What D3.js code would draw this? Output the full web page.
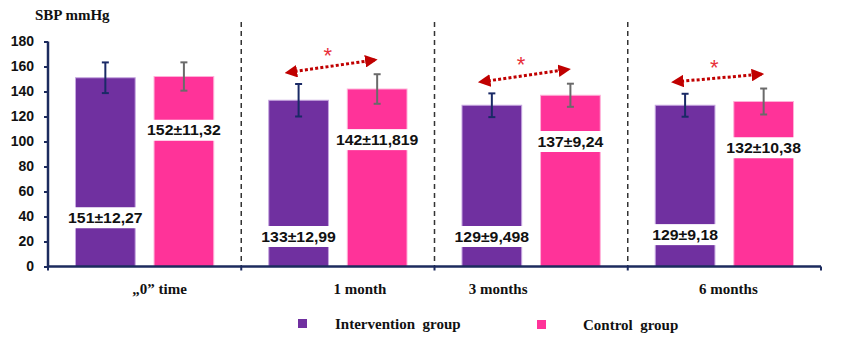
<!DOCTYPE html>
<html>
<head>
<meta charset="utf-8">
<script src="https://cdn.jsdelivr.net/npm/d3@7/dist/d3.min.js"></script>
<style>
  html, body { margin: 0; padding: 0; background: #fff; }
  svg { display: block; }
</style>
</head>
<body>
<svg id="chart" width="853" height="344"></svg>
<script>
// Systolic blood pressure (mmHg), mean ± SD per visit
const categories = ["\u201E0\u201D time", "1 month", "3 months", "6 months"];
const seriesNames = ["Intervention group", "Control group"];
const interventionMean = [151, 133, 129, 129];
const interventionSD   = [12.27, 12.99, 9.498, 9.18];
const controlMean      = [152, 142, 137, 132];
const controlSD        = [11.32, 11.819, 9.24, 10.38];
const interventionText = ["151\u00B112,27", "133\u00B112,99", "129\u00B19,498", "129\u00B19,18"];
const controlText      = ["152\u00B111,32", "142\u00B111,819", "137\u00B19,24", "132\u00B110,38"];
const significant      = [false, true, true, true];
const yTicks           = [0, 20, 40, 60, 80, 100, 120, 140, 160, 180];

// where the value labels sit on each bar (in mmHg)
const interventionLabelAt = [39, 24, 24, 25.5];
const controlLabelAt      = [109, 101.5, 100, 95];
// small horizontal nudges of the category names
const categoryShift = [15, 22, -33, 4];

const colors = { "Intervention group": "#7030A0", "Control group": "#FF3399" };
const outline = { "Intervention group": "#C6A6E0", "Control group": "#FFB0D8" };
const errColor = { "Intervention group": "#1A2A66", "Control group": "#6A6A6A" };

const svg = d3.select("#chart");
const axisColor = "#1C2B5E";

const y = d3.scaleLinear().domain([0, 180]).range([266.5, 41.5]);
const x = d3.scaleBand().domain(categories).range([48, 821]);
const xs = d3.scaleBand().domain(seriesNames).range([0, x.bandwidth()])
  .paddingInner(0.24).paddingOuter(0.35);

const rows = categories.map((c, i) => ({
  cat: c, i,
  items: [
    { s: seriesNames[0], mean: interventionMean[i], sd: interventionSD[i], text: interventionText[i], at: interventionLabelAt[i] },
    { s: seriesNames[1], mean: controlMean[i], sd: controlSD[i], text: controlText[i], at: controlLabelAt[i] }
  ]
}));

// Title
svg.append("text")
  .attr("x", 35).attr("y", 20)
  .attr("font-family", "Liberation Serif, Times New Roman, serif")
  .attr("font-weight", "bold").attr("font-size", 15)
  .attr("fill", "#111")
  .text("SBP mmHg");

// Dashed separators between visits
svg.append("g").selectAll("line")
  .data(categories.slice(1))
  .join("line")
  .attr("x1", d => x(d)).attr("x2", d => x(d))
  .attr("y1", 22).attr("y2", y(0))
  .attr("stroke", "#333").attr("stroke-width", 1.5)
  .attr("stroke-dasharray", "5,4");

// Bars
const groups = svg.append("g").selectAll("g")
  .data(rows).join("g")
  .attr("transform", d => `translate(${x(d.cat)},0)`);

groups.selectAll("rect.bar")
  .data(d => d.items)
  .join("rect")
  .attr("class", "bar")
  .attr("x", d => xs(d.s))
  .attr("width", xs.bandwidth())
  .attr("y", d => y(d.mean))
  .attr("height", d => y(0) - y(d.mean))
  .attr("fill", d => colors[d.s])
  .attr("stroke", d => outline[d.s])
  .attr("stroke-width", 1);

// Value labels on white patches
const labelFont = "Liberation Sans, Arial, sans-serif";
groups.each(function (row) {
  const g = d3.select(this);
  row.items.forEach(it => {
    const cx = xs(it.s) + xs.bandwidth() / 2;
    const cy = y(it.at);
    const lg = g.append("g").attr("transform", `translate(${cx},${cy}) scale(1.13,1)`);
    const t = lg.append("text")
      .attr("x", 0).attr("y", 0)
      .attr("text-anchor", "middle")
      .attr("dominant-baseline", "central")
      .attr("font-family", labelFont)
      .attr("font-weight", "bold")
      .attr("font-size", 14)
      .attr("fill", "#111")
      .text(it.text);
    const bb = t.node().getBBox();
    lg.insert("rect", "text")
      .attr("x", bb.x - 1).attr("width", bb.width + 2)
      .attr("y", -10.5).attr("height", 21)
      .attr("fill", "#fff");
  });
});

// Error bars
groups.selectAll("g.err")
  .data(d => d.items)
  .join("g")
  .attr("class", "err")
  .each(function (d) {
    const g = d3.select(this);
    const cx = xs(d.s) + xs.bandwidth() / 2;
    const top = y(d.mean + d.sd), bot = y(d.mean - d.sd);
    const c = errColor[d.s];
    g.append("line").attr("x1", cx).attr("x2", cx).attr("y1", top).attr("y2", bot)
      .attr("stroke", c).attr("stroke-width", 2);
    [top, bot].forEach(yy => g.append("line")
      .attr("x1", cx - 3.5).attr("x2", cx + 3.5).attr("y1", yy).attr("y2", yy)
      .attr("stroke", c).attr("stroke-width", 2));
  });

// Significance arrows and asterisks
const defs = svg.append("defs");
["start", "end"].forEach(kind => {
  defs.append("marker")
    .attr("id", "arrow-" + kind)
    .attr("viewBox", "0 0 10 10")
    .attr("refX", kind === "end" ? 8 : 2).attr("refY", 5)
    .attr("markerWidth", 4.2).attr("markerHeight", 4.2)
    .attr("markerUnits", "strokeWidth")
    .attr("orient", "auto-start-reverse")
    .append("path").attr("d", "M0,0 L10,5 L0,10 Z").attr("fill", "#C00000");
});

groups.filter(d => significant[d.i]).each(function (row) {
  const g = d3.select(this);
  const a = row.items[0], b = row.items[1];
  const x1 = xs(a.s) + xs.bandwidth() / 2 - 4;
  const x2 = xs(b.s) + xs.bandwidth() / 2 - 2;
  const y1 = y(a.mean + a.sd + 10);
  const y2 = y(b.mean + b.sd + 11.5);
  g.append("line")
    .attr("x1", x1).attr("y1", y1).attr("x2", x2).attr("y2", y2)
    .attr("stroke", "#C00000").attr("stroke-width", 3)
    .attr("stroke-dasharray", "3,2.2")
    .attr("marker-start", "url(#arrow-start)")
    .attr("marker-end", "url(#arrow-end)");
  g.append("text")
    .attr("x", (x1 + x2) / 2 - 7).attr("y", (y1 + y2) / 2 - 3)
    .attr("text-anchor", "middle")
    .attr("font-family", labelFont)
    .attr("font-size", 22)
    .attr("fill", "#E8303A")
    .text("*");
});

// Y axis
const yAxis = svg.append("g")
  .attr("transform", `translate(${x.range()[0]},0)`)
  .call(d3.axisLeft(y).tickValues(yTicks).tickSize(4).tickPadding(10));
yAxis.select(".domain").attr("stroke", axisColor).attr("stroke-width", 2.5)
  .attr("d", `M0,${y(180)}V${y(0)}`);
yAxis.selectAll(".tick line").attr("stroke", axisColor).attr("stroke-width", 2);
yAxis.selectAll(".tick text")
  .attr("font-family", labelFont).attr("font-weight", "bold")
  .attr("font-size", 14).attr("fill", "#111");

// X axis with ticks at visit boundaries
const xAxis = svg.append("g").attr("transform", `translate(0,${y(0)})`);
xAxis.append("line")
  .attr("x1", x.range()[0]).attr("x2", x.range()[1])
  .attr("stroke", axisColor).attr("stroke-width", 2.5);
xAxis.selectAll("line.tk")
  .data(categories.map(c => x(c)).concat([x.range()[1]]))
  .join("line").attr("class", "tk")
  .attr("x1", d => d).attr("x2", d => d).attr("y1", 0).attr("y2", 4)
  .attr("stroke", axisColor).attr("stroke-width", 2);
xAxis.selectAll("text")
  .data(categories)
  .join("text")
  .attr("x", (d, i) => x(d) + x.bandwidth() / 2 + categoryShift[i])
  .attr("y", 27)
  .attr("text-anchor", "middle")
  .attr("font-family", "Liberation Serif, Times New Roman, serif")
  .attr("font-weight", "bold").attr("font-size", 15)
  .attr("fill", "#111")
  .text(d => d);

// Legend
const legendPos = [[298, 319, 335], [537, 320, 583]];
const legend = svg.append("g").selectAll("g")
  .data(seriesNames).join("g");
legend.append("rect")
  .attr("x", (d, i) => legendPos[i][0]).attr("y", (d, i) => legendPos[i][1])
  .attr("width", 9).attr("height", 9)
  .attr("fill", d => colors[d]);
legend.append("text")
  .attr("x", (d, i) => legendPos[i][2]).attr("y", (d, i) => legendPos[i][1] + 10)
  .attr("font-family", "Liberation Serif, Times New Roman, serif")
  .attr("font-weight", "bold").attr("font-size", 15)
  .attr("fill", "#111")
  .style("white-space", "pre")
  .text(d => d.replace(" group", "  group"));
</script>
</body>
</html>
